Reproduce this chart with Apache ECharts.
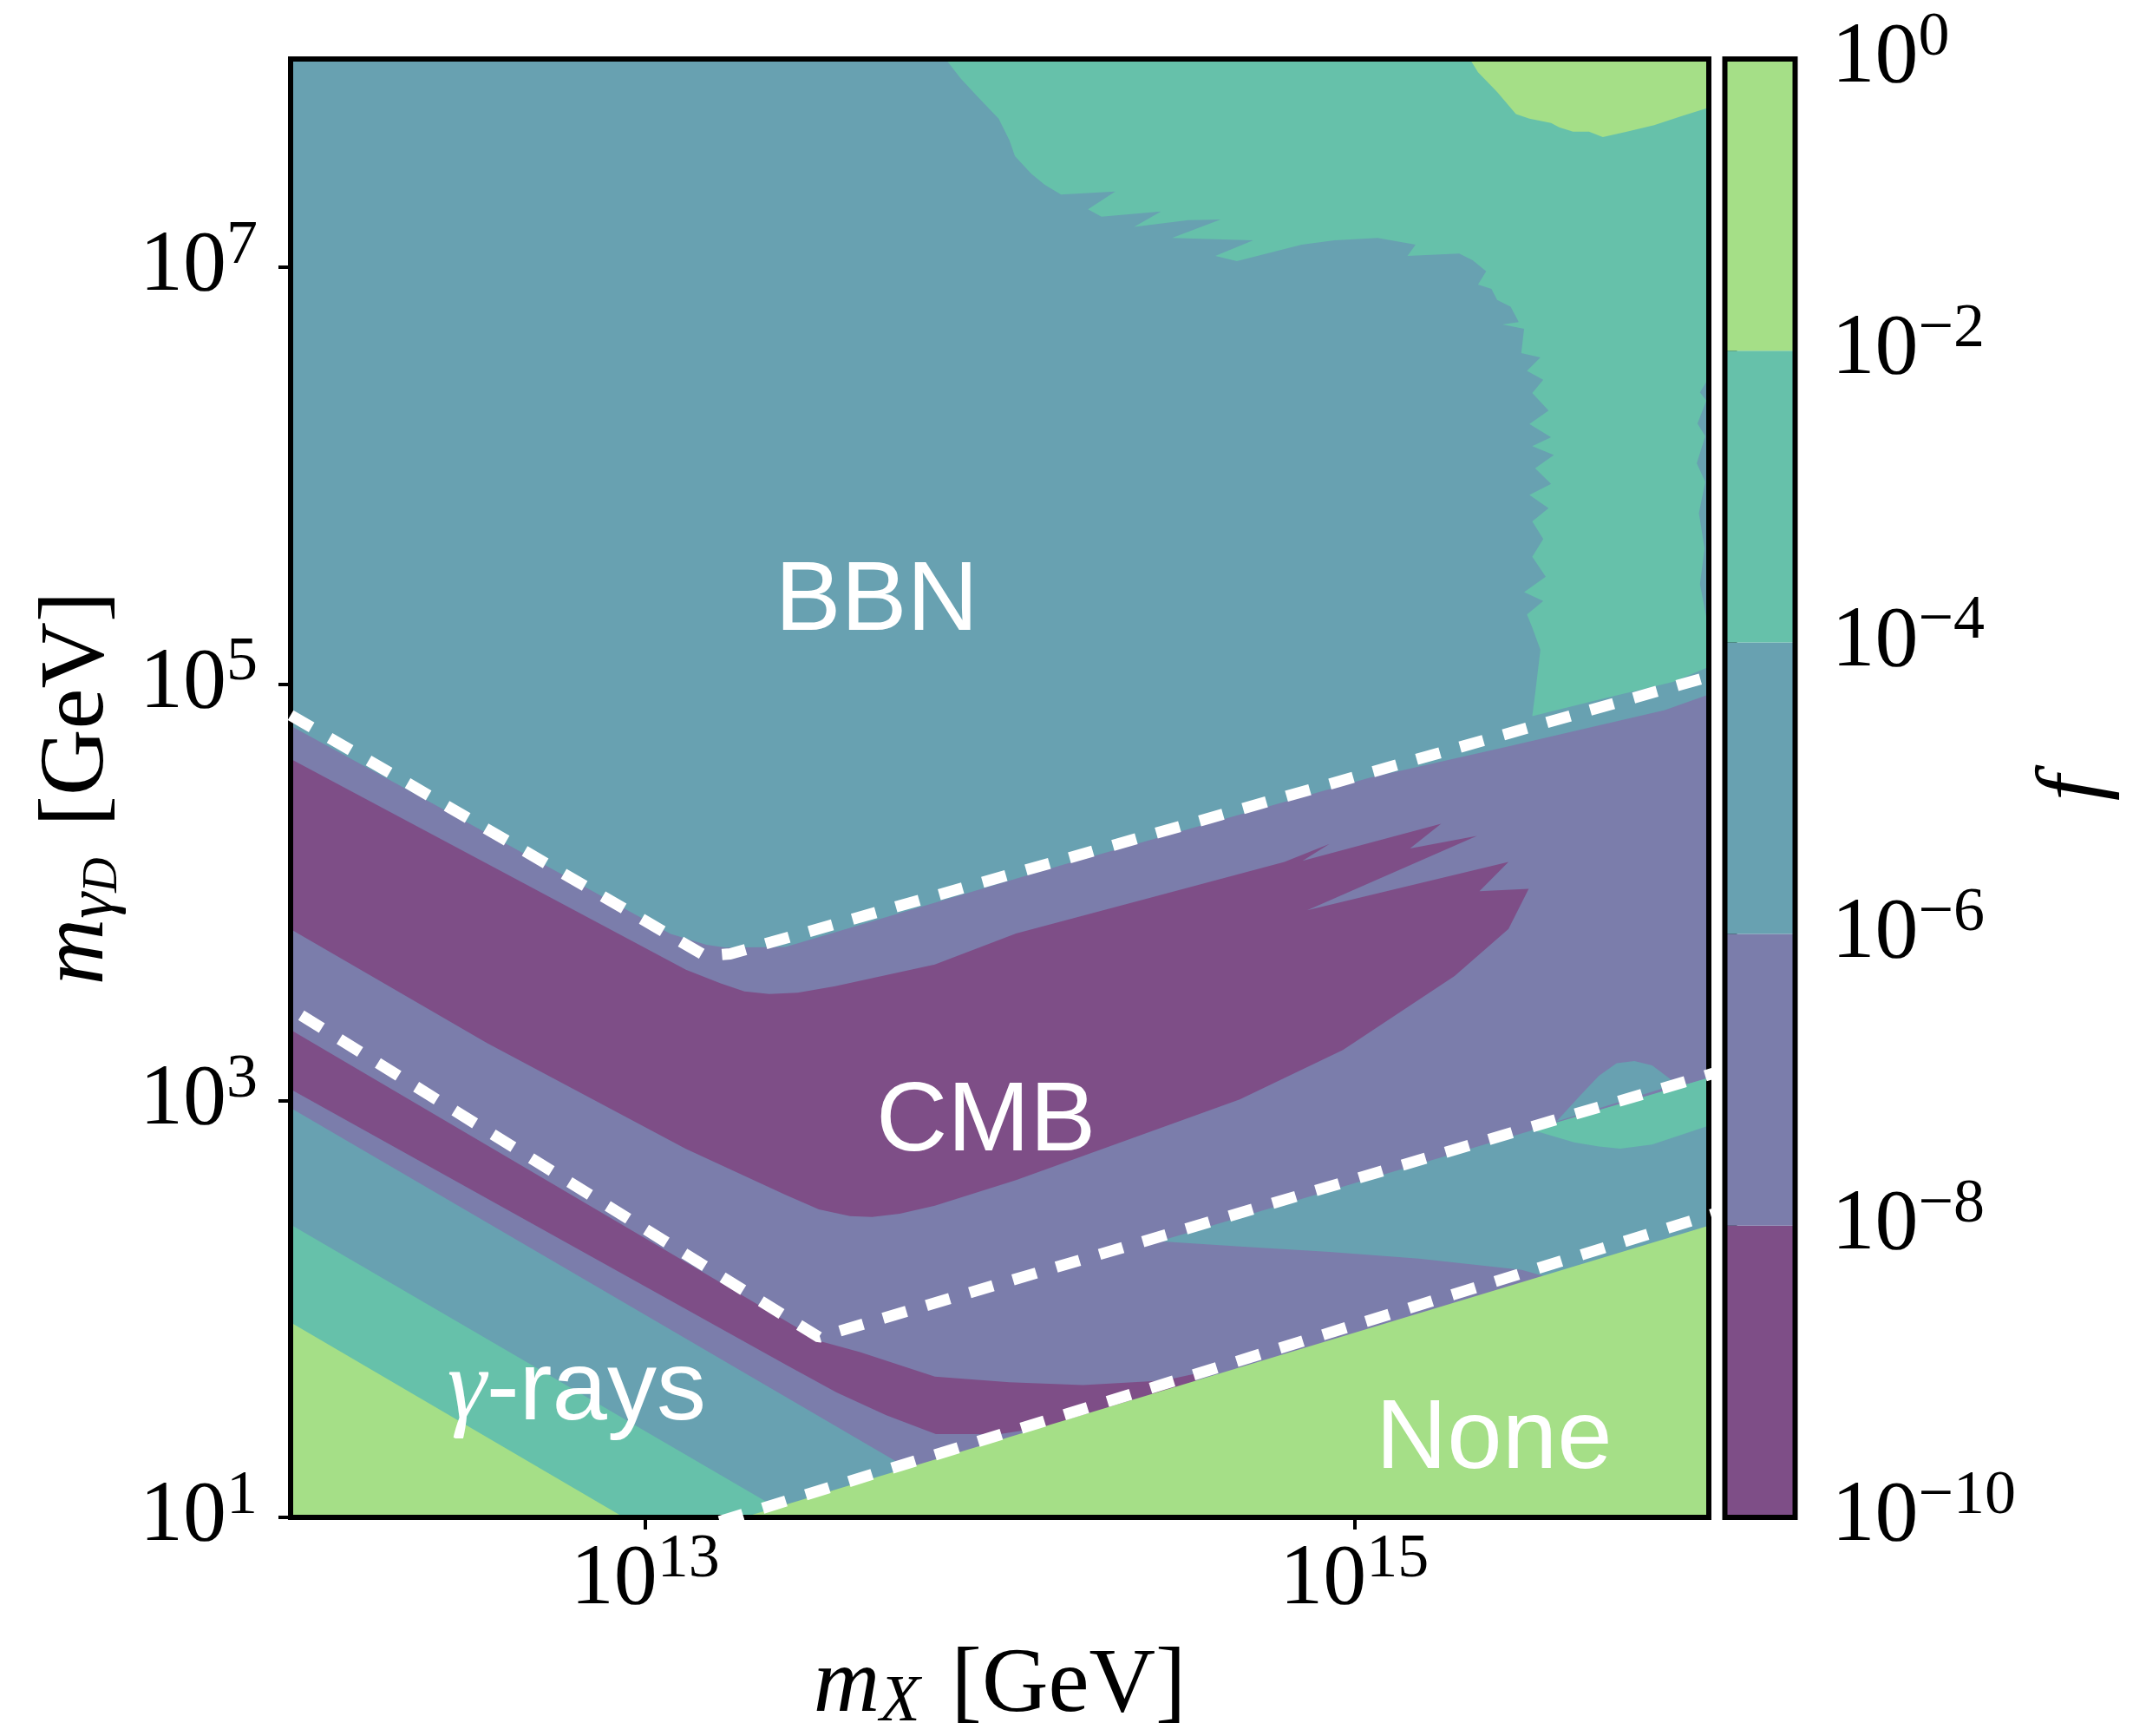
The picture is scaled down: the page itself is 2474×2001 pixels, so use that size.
<!DOCTYPE html>
<html>
<head>
<meta charset="utf-8">
<script src="https://cdn.jsdelivr.net/npm/echarts@6/dist/echarts.min.js"></script>
<style>
html,body{margin:0;padding:0;background:#fff;}
#c{width:2474px;height:2001px;}
</style>
</head>
<body>
<div id="c"></div>
<script>
// ---------- data (log10 m_X , log10 m_gammaD) ----------
const xTicks = [13, 15];
const yTicks = [1, 3, 5, 7];
const cbTicks = [-10, -8, -6, -4, -2, 0];
const levelBounds = [-10, -8, -6, -4, -2, 0];
const levelColors = ['#7E4E87', '#7B7DAB', '#68A1B1', '#66C1AA', '#A5DF87'];

const plotArea = [[12,1],[16,1],[16,8],[12,8]];
const bbnWeak = [[13.85,8.0],[13.852,7.99],[13.890,7.906],[13.943,7.810],[13.997,7.714],[14.028,7.608],[14.043,7.534],[14.089,7.449],[14.127,7.396],[14.173,7.349],[14.326,7.364],[14.249,7.279],[14.287,7.243],[14.455,7.268],[14.379,7.194],[14.532,7.226],[14.623,7.230],[14.486,7.141],[14.715,7.130],[14.608,7.055],[14.669,7.030],[14.852,7.109],[14.944,7.130],[15.066,7.141],[15.173,7.109],[15.150,7.055],[15.296,7.066],[15.334,7.034],[15.372,6.981],[15.349,6.917],[15.387,6.896],[15.403,6.843],[15.441,6.811],[15.464,6.737],[15.418,6.726],[15.479,6.705],[15.471,6.588],[15.525,6.567],[15.487,6.503],[15.533,6.460],[15.502,6.397],[15.548,6.312],[15.494,6.248],[15.555,6.184],[15.502,6.142],[15.563,6.099],[15.510,6.036],[15.555,5.961],[15.494,5.908],[15.548,5.844],[15.502,5.780],[15.533,5.696],[15.502,5.611],[15.540,5.515],[15.479,5.441],[15.533,5.398],[15.487,5.334],[15.502,5.271],[15.525,5.164],[15.510,4.952],[15.502,4.846],[15.687,4.924],[15.899,5.010],[16.0,5.082],[16.0,8.0]];
const topCorner = [[15.326,8.0],[15.349,7.937],[15.403,7.842],[15.456,7.736],[15.494,7.714],[15.555,7.693],[15.578,7.672],[15.617,7.651],[15.662,7.651],[15.701,7.625],[15.769,7.651],[15.846,7.682],[15.922,7.725],[16.0,7.767],[16.0,8.0]];
const edgeStrip = [[16.0,6.47],[15.975,6.40],[15.993,6.36],[15.968,6.25],[15.99,6.19],[15.966,6.06],[15.99,5.97],[15.972,5.82],[15.988,5.65],[15.975,5.48],[15.992,5.33],[16.0,5.27]];
const cmbOuter = [[12.0,4.80],[13.072,3.80],[13.173,3.748],[13.227,3.735],[13.396,3.738],[14.183,4.135],[15.043,4.550],[15.433,4.700],[15.876,4.875],[16.0,4.950],[16.0,1.0],[12.0,1.0]];
const cmbCore = [[12.0,4.641],[13.115,3.629],[13.213,3.563],[13.28,3.525],[13.35,3.512],[13.43,3.518],[13.536,3.550],[13.817,3.654],[14.046,3.802],[14.425,3.974],[14.803,4.146],[14.930,4.232],[14.854,4.151],[15.245,4.329],[15.157,4.211],[15.346,4.271],[14.867,3.914],[15.435,4.146],[15.353,4.006],[15.492,4.017],[15.435,3.824],[15.283,3.598],[14.968,3.243],[14.677,3.006],[14.046,2.619],[13.817,2.496],[13.718,2.457],[13.64,2.442],[13.578,2.446],[13.49,2.478],[13.396,2.548],[13.115,2.769],[12.554,3.277],[12.0,3.823]];
const lowBand = [[14.45,2.325],[16.0,3.11],[16.0,2.30],[15.55,2.15],[15.473,2.188],[15.182,2.242],[14.930,2.274],[14.677,2.300]];
const lowSpot = [[15.50,2.86],[15.62,2.80],[15.69,2.78],[15.75,2.77],[15.84,2.79],[16.0,2.88],[16.0,3.11]];
const lowBump = [[15.57,2.90],[15.64,3.03],[15.69,3.12],[15.74,3.18],[15.79,3.19],[15.84,3.17],[15.91,3.08]];
const cmbLower = [[12.0,3.34],[13.494,1.845],[13.606,1.793],[13.817,1.676],[14.027,1.649],[14.235,1.635],[14.463,1.657],[14.551,1.689],[14.56,1.62],[14.19,1.45],[14.0,1.40],[13.82,1.40],[13.68,1.49],[13.54,1.60],[13.40,1.73],[12.0,3.055]];
const gammaBand1 = [[12.0,2.965],[13.705,1.272],[13.80,1.0],[12.0,1.0]];
const gammaBand2 = [[12.0,2.405],[13.34,1.077],[13.42,1.0],[12.0,1.0]];
const gammaBand3 = [[12.0,1.936],[12.94,1.0],[12.0,1.0]];
const noneRegion = [[13.20,0.96],[16.0,2.40],[16.05,2.42],[16.05,0.96]];

const bbnLine = [[12.0,4.85],[13.17,3.695],[13.24,3.705],[16.03,5.05]];
const cmbLine = [[12.03,3.41],[13.49,1.865],[16.03,3.14]];
const noneLine = [[13.21,0.98],[16.02,2.46]];

const labelTexts = ['BBN', 'CMB', '{g|\u03b3}-rays', 'None'];
const labelPos = [[13.653,5.391],[13.961,2.891],[12.807,1.603],[15.394,1.367]];

// ---------- build ----------
const regions = [
  {pts: plotArea, lv: 2}, {pts: bbnWeak, lv: 3}, {pts: topCorner, lv: 4},
  {pts: edgeStrip, lv: 2}, {pts: cmbOuter, lv: 1}, {pts: cmbCore, lv: 0},
  {pts: lowBand, lv: 2}, {pts: lowSpot, lv: 3}, {pts: lowBump, lv: 2},
  {pts: cmbLower, lv: 0}, {pts: gammaBand1, lv: 2}, {pts: gammaBand2, lv: 3},
  {pts: gammaBand3, lv: 4}, {pts: noneRegion, lv: 4}
];

const serif = 'Liberation Serif';
const sans = 'Liberation Sans';
const tickRich = {
  b: {fontFamily: serif, fontSize: 100, lineHeight: 120, verticalAlign: 'middle', color: '#000'},
  s: {fontFamily: serif, fontSize: 72, lineHeight: 68, verticalAlign: 'top', color: '#000'}
};
const nameRich = {
  m: {fontFamily: serif, fontStyle: 'italic', fontSize: 106, lineHeight: 110, verticalAlign: 'top', color: '#000'},
  sub: {fontFamily: serif, fontStyle: 'italic', fontSize: 76, lineHeight: 62, verticalAlign: 'bottom', color: '#000'},
  ss: {fontFamily: serif, fontStyle: 'italic', fontSize: 56, lineHeight: 22, verticalAlign: 'bottom', color: '#000'},
  r: {fontFamily: serif, fontSize: 106, lineHeight: 110, verticalAlign: 'top', color: '#000', padding: [0, 0, 0, 36]}
};

function dashSeries(data) {
  return {
    type: 'line', xAxisIndex: 0, yAxisIndex: 0, data: data, symbol: 'none', showSymbol: false,
    clip: false, z: 6, silent: true, animation: false,
    lineStyle: {color: '#fff', width: 13, type: [28, 24], cap: 'butt'}
  };
}

const chart = echarts.init(document.getElementById('c'), null, {renderer: 'canvas', width: 2474, height: 2001});
chart.setOption({
  animation: false,
  backgroundColor: '#fff',
  grid: [
    {left: 335, top: 68, width: 1635, height: 1681, outerBoundsMode: 'none', containLabel: false, show: true, borderColor: '#000', borderWidth: 6, backgroundColor: 'transparent', z: 5},
    {left: 1988.5, top: 68, width: 81, height: 1681, outerBoundsMode: 'none', containLabel: false, show: true, borderColor: '#000', borderWidth: 6, backgroundColor: 'transparent', z: 5}
  ],
  xAxis: [
    {
      type: 'value', gridIndex: 0, min: 12, max: 16, interval: 1,
      axisLine: {show: false}, splitLine: {show: false},
      axisTick: {show: true, customValues: xTicks, length: 14, lineStyle: {color: '#000', width: 4}},
      axisLabel: {customValues: xTicks, margin: 13, formatter: v => '{b|10}{s|' + v + '}', rich: tickRich},
      name: '{m|m}{sub|X}{r|[GeV]}', nameLocation: 'middle', nameGap: 142,
      nameTextStyle: {rich: nameRich}
    },
    {type: 'value', gridIndex: 1, min: 0, max: 1, show: false}
  ],
  yAxis: [
    {
      type: 'value', gridIndex: 0, min: 1, max: 8, interval: 1,
      axisLine: {show: false}, splitLine: {show: false},
      axisTick: {show: true, customValues: yTicks, length: 14, lineStyle: {color: '#000', width: 4}},
      axisLabel: {customValues: yTicks, margin: 38, formatter: v => '{b|10}{s|' + v + '}', rich: tickRich},
      name: '{m|m}{sub|\u03b3}{ss|D}{r|[GeV]}', nameLocation: 'middle', nameRotate: 90, nameGap: 188,
      nameTextStyle: {rich: nameRich}
    },
    {
      type: 'value', gridIndex: 1, min: -10, max: 0, interval: 2, position: 'right',
      axisLine: {show: false}, splitLine: {show: false},
      axisTick: {show: true, customValues: cbTicks, length: 14, lineStyle: {color: '#000', width: 4}},
      axisLabel: {customValues: cbTicks, margin: 42, formatter: v => '{b|10}{s|' + (v < 0 ? '\u2212' + (-v) : v) + '}', rich: tickRich},
      name: '{m|f}', nameLocation: 'middle', nameRotate: 90, nameGap: 270,
      nameTextStyle: {rich: nameRich}
    }
  ],
  series: [
    {
      type: 'custom', xAxisIndex: 0, yAxisIndex: 0, clip: true, z: 2, silent: true,
      data: regions.map((r, i) => [i]),
      renderItem: function (params, api) {
        const r = regions[params.dataIndex];
        return {
          type: 'polygon', z2: params.dataIndex,
          shape: {points: r.pts.map(p => api.coord(p))},
          style: {fill: levelColors[r.lv]}
        };
      }
    },
    {
      type: 'custom', xAxisIndex: 1, yAxisIndex: 1, z: 2, silent: true,
      data: levelColors.map((c, i) => [i]),
      renderItem: function (params, api) {
        const i = params.dataIndex;
        const p0 = api.coord([0, levelBounds[i]]);
        const p1 = api.coord([1, levelBounds[i + 1]]);
        return {
          type: 'rect',
          shape: {x: p0[0], y: p1[1], width: p1[0] - p0[0], height: p0[1] - p1[1]},
          style: {fill: levelColors[i]}
        };
      }
    },
    dashSeries(bbnLine),
    dashSeries(cmbLine),
    dashSeries(noneLine),
    {
      type: 'custom', xAxisIndex: 0, yAxisIndex: 0, z: 7, silent: true,
      data: labelTexts.map((t, i) => [i]),
      renderItem: function (params, api) {
        const i = params.dataIndex;
        const p = api.coord(labelPos[i]);
        return {
          type: 'text', x: p[0], y: p[1],
          style: {
            text: labelTexts[i], fill: '#fff', fontFamily: sans, fontSize: 114,
            align: 'center', verticalAlign: 'middle',
            rich: {g: {fontFamily: serif, fontStyle: 'italic', fontSize: 114, fill: '#fff'}}
          }
        };
      }
    }
  ]
});
</script>
</body>
</html>
